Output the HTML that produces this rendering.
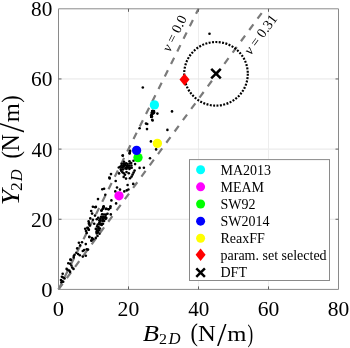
<!DOCTYPE html><html><head><meta charset="utf-8"><style>html,body{margin:0;padding:0;background:#fff;width:350px;height:348px;overflow:hidden}svg{display:block;will-change:transform}text{font-family:"Liberation Serif",serif}</style></head><body>
<svg width="350" height="348" viewBox="0 0 350 348">
<rect x="0" y="0" width="350" height="348" fill="#fff"/>
<line x1="128.5" y1="8.800000000000011" x2="128.5" y2="289.4" stroke="#ededed" stroke-width="1"/>
<line x1="58.5" y1="219.25" x2="338.5" y2="219.25" stroke="#e6e6e6" stroke-width="1"/>
<line x1="198.5" y1="8.800000000000011" x2="198.5" y2="289.4" stroke="#ededed" stroke-width="1"/>
<line x1="58.5" y1="149.10" x2="338.5" y2="149.10" stroke="#e6e6e6" stroke-width="1"/>
<line x1="268.5" y1="8.800000000000011" x2="268.5" y2="289.4" stroke="#ededed" stroke-width="1"/>
<line x1="58.5" y1="78.95" x2="338.5" y2="78.95" stroke="#e6e6e6" stroke-width="1"/>
<line x1="58.5" y1="289.4" x2="198.52" y2="8.80" stroke="#7a7a7a" stroke-width="2.2" stroke-dasharray="7 7"/>
<line x1="58.5" y1="289.4" x2="264.82" y2="8.80" stroke="#7a7a7a" stroke-width="2.2" stroke-dasharray="7 7"/>
<circle cx="209.5" cy="33.8" r="1.3" fill="#000"/>
<circle cx="142.8" cy="87.5" r="1.3" fill="#000"/>
<circle cx="152.8" cy="110.8" r="1.3" fill="#000"/>
<circle cx="151.7" cy="112.8" r="1.3" fill="#000"/>
<circle cx="153.4" cy="113.3" r="1.3" fill="#000"/>
<circle cx="151.1" cy="115.6" r="1.3" fill="#000"/>
<circle cx="152" cy="116.6" r="1.3" fill="#000"/>
<circle cx="157.4" cy="113.6" r="1.3" fill="#000"/>
<circle cx="172" cy="111.4" r="1.3" fill="#000"/>
<circle cx="152.2" cy="119.7" r="1.3" fill="#000"/>
<circle cx="151.3" cy="116" r="1.3" fill="#000"/>
<circle cx="152.6" cy="120.5" r="1.3" fill="#000"/>
<circle cx="146" cy="123.6" r="1.3" fill="#000"/>
<circle cx="147.2" cy="124" r="1.3" fill="#000"/>
<circle cx="147" cy="129.1" r="1.3" fill="#000"/>
<circle cx="167.4" cy="129.9" r="1.3" fill="#000"/>
<circle cx="150.9" cy="141.4" r="1.3" fill="#000"/>
<circle cx="156.1" cy="149.4" r="1.3" fill="#000"/>
<circle cx="139.6" cy="128.3" r="1.3" fill="#000"/>
<circle cx="130.1" cy="150.8" r="1.3" fill="#000"/>
<circle cx="129.7" cy="153" r="1.3" fill="#000"/>
<circle cx="122.8" cy="155.6" r="1.3" fill="#000"/>
<circle cx="150" cy="158.3" r="1.3" fill="#000"/>
<circle cx="139.6" cy="167.9" r="1.3" fill="#000"/>
<circle cx="143.9" cy="167.8" r="1.3" fill="#000"/>
<circle cx="133.2" cy="183.9" r="1.3" fill="#000"/>
<circle cx="130" cy="151.7" r="1.3" fill="#000"/>
<circle cx="129.6" cy="153.4" r="1.3" fill="#000"/>
<circle cx="122.7" cy="155.6" r="1.3" fill="#000"/>
<circle cx="111" cy="174.1" r="1.3" fill="#000"/>
<circle cx="109.3" cy="177.6" r="1.3" fill="#000"/>
<circle cx="109.7" cy="178.4" r="1.3" fill="#000"/>
<circle cx="115.7" cy="181" r="1.3" fill="#000"/>
<circle cx="102.3" cy="189.2" r="1.3" fill="#000"/>
<circle cx="104.1" cy="188.8" r="1.3" fill="#000"/>
<circle cx="117" cy="187.5" r="1.3" fill="#000"/>
<circle cx="120" cy="189.6" r="1.3" fill="#000"/>
<circle cx="115.3" cy="191.4" r="1.3" fill="#000"/>
<circle cx="124.3" cy="191.4" r="1.3" fill="#000"/>
<circle cx="105.3" cy="194.8" r="1.3" fill="#000"/>
<circle cx="98" cy="199.1" r="1.3" fill="#000"/>
<circle cx="111.4" cy="200.4" r="1.3" fill="#000"/>
<circle cx="116.1" cy="203.4" r="1.3" fill="#000"/>
<circle cx="103.6" cy="206.4" r="1.3" fill="#000"/>
<circle cx="110.5" cy="206.4" r="1.3" fill="#000"/>
<circle cx="95.9" cy="206.9" r="1.3" fill="#000"/>
<circle cx="103.4" cy="207.1" r="1.3" fill="#000"/>
<circle cx="102.6" cy="208.8" r="1.3" fill="#000"/>
<circle cx="101.3" cy="210.5" r="1.3" fill="#000"/>
<circle cx="106.5" cy="208.8" r="1.3" fill="#000"/>
<circle cx="108.6" cy="209.2" r="1.3" fill="#000"/>
<circle cx="110.3" cy="207.9" r="1.3" fill="#000"/>
<circle cx="110.8" cy="214.4" r="1.3" fill="#000"/>
<circle cx="92.9" cy="206.7" r="1.3" fill="#000"/>
<circle cx="95.1" cy="207.2" r="1.3" fill="#000"/>
<circle cx="103.7" cy="206.7" r="1.3" fill="#000"/>
<circle cx="103.3" cy="208.4" r="1.3" fill="#000"/>
<circle cx="105.9" cy="208.9" r="1.3" fill="#000"/>
<circle cx="108.4" cy="209.3" r="1.3" fill="#000"/>
<circle cx="91.2" cy="211" r="1.3" fill="#000"/>
<circle cx="101.6" cy="210.6" r="1.3" fill="#000"/>
<circle cx="92.1" cy="213.6" r="1.3" fill="#000"/>
<circle cx="90.3" cy="218.4" r="1.3" fill="#000"/>
<circle cx="92.9" cy="219.7" r="1.3" fill="#000"/>
<circle cx="88.6" cy="221.4" r="1.3" fill="#000"/>
<circle cx="89.1" cy="223.1" r="1.3" fill="#000"/>
<circle cx="85.2" cy="228.7" r="1.3" fill="#000"/>
<circle cx="87.3" cy="227.8" r="1.3" fill="#000"/>
<circle cx="88.6" cy="229.6" r="1.3" fill="#000"/>
<circle cx="86" cy="230.9" r="1.3" fill="#000"/>
<circle cx="89.3" cy="237.1" r="1.3" fill="#000"/>
<circle cx="92.3" cy="238.4" r="1.3" fill="#000"/>
<circle cx="95.8" cy="237.9" r="1.3" fill="#000"/>
<circle cx="91.4" cy="240.5" r="1.3" fill="#000"/>
<circle cx="88.9" cy="223.7" r="1.3" fill="#000"/>
<circle cx="89.7" cy="225.4" r="1.3" fill="#000"/>
<circle cx="88" cy="228" r="1.3" fill="#000"/>
<circle cx="88.9" cy="229.8" r="1.3" fill="#000"/>
<circle cx="88" cy="249.6" r="1.3" fill="#000"/>
<circle cx="86.7" cy="232.9" r="1.3" fill="#000"/>
<circle cx="89.3" cy="236.7" r="1.3" fill="#000"/>
<circle cx="91.9" cy="238" r="1.3" fill="#000"/>
<circle cx="93.2" cy="239.3" r="1.3" fill="#000"/>
<circle cx="91.4" cy="240.6" r="1.3" fill="#000"/>
<circle cx="78.9" cy="242.8" r="1.3" fill="#000"/>
<circle cx="82" cy="242.2" r="1.3" fill="#000"/>
<circle cx="85.8" cy="244.1" r="1.3" fill="#000"/>
<circle cx="80.2" cy="245.4" r="1.3" fill="#000"/>
<circle cx="77.2" cy="248.4" r="1.3" fill="#000"/>
<circle cx="84.1" cy="250.1" r="1.3" fill="#000"/>
<circle cx="86.7" cy="249.2" r="1.3" fill="#000"/>
<circle cx="82.8" cy="251" r="1.3" fill="#000"/>
<circle cx="76.3" cy="252.7" r="1.3" fill="#000"/>
<circle cx="78.1" cy="254" r="1.3" fill="#000"/>
<circle cx="79.8" cy="255.3" r="1.3" fill="#000"/>
<circle cx="74.6" cy="254.8" r="1.3" fill="#000"/>
<circle cx="73.8" cy="256.1" r="1.3" fill="#000"/>
<circle cx="82.8" cy="256.6" r="1.3" fill="#000"/>
<circle cx="85.8" cy="255.7" r="1.3" fill="#000"/>
<circle cx="70.3" cy="259.6" r="1.3" fill="#000"/>
<circle cx="73.7" cy="257.5" r="1.3" fill="#000"/>
<circle cx="70.9" cy="259.9" r="1.3" fill="#000"/>
<circle cx="68.3" cy="263.3" r="1.3" fill="#000"/>
<circle cx="70.1" cy="263.7" r="1.3" fill="#000"/>
<circle cx="71.4" cy="265.5" r="1.3" fill="#000"/>
<circle cx="72.2" cy="267.6" r="1.3" fill="#000"/>
<circle cx="73.5" cy="268.9" r="1.3" fill="#000"/>
<circle cx="66.6" cy="268.9" r="1.3" fill="#000"/>
<circle cx="67.5" cy="269.8" r="1.3" fill="#000"/>
<circle cx="69.2" cy="270.6" r="1.3" fill="#000"/>
<circle cx="70.1" cy="271.9" r="1.3" fill="#000"/>
<circle cx="62.7" cy="273.7" r="1.3" fill="#000"/>
<circle cx="61.9" cy="276.7" r="1.3" fill="#000"/>
<circle cx="63.2" cy="277.5" r="1.3" fill="#000"/>
<circle cx="64.5" cy="278.4" r="1.3" fill="#000"/>
<circle cx="61" cy="280.1" r="1.3" fill="#000"/>
<circle cx="62.3" cy="281.4" r="1.3" fill="#000"/>
<circle cx="63.2" cy="281.8" r="1.3" fill="#000"/>
<circle cx="61.4" cy="282.3" r="1.3" fill="#000"/>
<circle cx="127.6" cy="185.0" r="1.3" fill="#000"/>
<circle cx="126.7" cy="190.4" r="1.3" fill="#000"/>
<circle cx="128.4" cy="189.5" r="1.3" fill="#000"/>
<circle cx="118.8" cy="167.5" r="1.3" fill="#000"/>
<circle cx="119.1" cy="173.4" r="1.3" fill="#000"/>
<circle cx="121.2" cy="170.8" r="1.3" fill="#000"/>
<circle cx="122.5" cy="172.2" r="1.3" fill="#000"/>
<circle cx="123.8" cy="173.3" r="1.3" fill="#000"/>
<circle cx="126.5" cy="172" r="1.3" fill="#000"/>
<circle cx="128.8" cy="173.2" r="1.3" fill="#000"/>
<circle cx="125" cy="174.8" r="1.3" fill="#000"/>
<circle cx="123.7" cy="176.9" r="1.3" fill="#000"/>
<circle cx="126" cy="178.6" r="1.3" fill="#000"/>
<circle cx="130" cy="178.3" r="1.3" fill="#000"/>
<circle cx="131.7" cy="167.7" r="1.3" fill="#000"/>
<circle cx="134.6" cy="170.6" r="1.3" fill="#000"/>
<circle cx="133.6" cy="172.6" r="1.3" fill="#000"/>
<circle cx="132.6" cy="174.6" r="1.3" fill="#000"/>
<circle cx="131.6" cy="176.6" r="1.3" fill="#000"/>
<circle cx="124" cy="161.8" r="1.3" fill="#000"/>
<circle cx="129.5" cy="161.2" r="1.3" fill="#000"/>
<circle cx="131.2" cy="163" r="1.3" fill="#000"/>
<circle cx="131.4" cy="165.5" r="1.3" fill="#000"/>
<circle cx="133.5" cy="160.8" r="1.3" fill="#000"/>
<circle cx="135.1" cy="164.1" r="1.3" fill="#000"/>
<circle cx="95" cy="215.6" r="1.3" fill="#000"/>
<circle cx="94.2" cy="223.8" r="1.3" fill="#000"/>
<circle cx="97.5" cy="236" r="1.3" fill="#000"/>
<circle cx="107.5" cy="213.8" r="1.3" fill="#000"/>
<circle cx="105.5" cy="219" r="1.3" fill="#000"/>
<circle cx="121.74" cy="163.78" r="1.3" fill="#000"/>
<circle cx="123.87" cy="163.84" r="1.3" fill="#000"/>
<circle cx="126.13" cy="163.31" r="1.3" fill="#000"/>
<circle cx="127.51" cy="164.08" r="1.3" fill="#000"/>
<circle cx="129.76" cy="163.47" r="1.3" fill="#000"/>
<circle cx="121.50" cy="165.45" r="1.3" fill="#000"/>
<circle cx="123.34" cy="165.46" r="1.3" fill="#000"/>
<circle cx="125.14" cy="165.13" r="1.3" fill="#000"/>
<circle cx="127.13" cy="165.85" r="1.3" fill="#000"/>
<circle cx="129.02" cy="165.72" r="1.3" fill="#000"/>
<circle cx="120.17" cy="166.78" r="1.3" fill="#000"/>
<circle cx="122.26" cy="167.31" r="1.3" fill="#000"/>
<circle cx="123.80" cy="166.75" r="1.3" fill="#000"/>
<circle cx="126.37" cy="167.19" r="1.3" fill="#000"/>
<circle cx="128.22" cy="167.60" r="1.3" fill="#000"/>
<circle cx="130.21" cy="167.64" r="1.3" fill="#000"/>
<circle cx="120.89" cy="169.26" r="1.3" fill="#000"/>
<circle cx="122.94" cy="169.40" r="1.3" fill="#000"/>
<circle cx="125.38" cy="168.56" r="1.3" fill="#000"/>
<circle cx="126.64" cy="168.68" r="1.3" fill="#000"/>
<circle cx="129.47" cy="168.90" r="1.3" fill="#000"/>
<circle cx="102.13" cy="214.34" r="1.3" fill="#000"/>
<circle cx="104.01" cy="214.43" r="1.3" fill="#000"/>
<circle cx="105.85" cy="214.63" r="1.3" fill="#000"/>
<circle cx="101.08" cy="216.68" r="1.3" fill="#000"/>
<circle cx="103.18" cy="216.71" r="1.3" fill="#000"/>
<circle cx="105.36" cy="216.77" r="1.3" fill="#000"/>
<circle cx="98.17" cy="217.68" r="1.3" fill="#000"/>
<circle cx="100.36" cy="218.48" r="1.3" fill="#000"/>
<circle cx="102.40" cy="218.09" r="1.3" fill="#000"/>
<circle cx="104.21" cy="217.73" r="1.3" fill="#000"/>
<circle cx="106.33" cy="218.09" r="1.3" fill="#000"/>
<circle cx="96.78" cy="219.32" r="1.3" fill="#000"/>
<circle cx="99.35" cy="220.25" r="1.3" fill="#000"/>
<circle cx="100.59" cy="220.06" r="1.3" fill="#000"/>
<circle cx="102.91" cy="219.41" r="1.3" fill="#000"/>
<circle cx="99.79" cy="221.77" r="1.3" fill="#000"/>
<circle cx="102.37" cy="221.04" r="1.3" fill="#000"/>
<circle cx="104.11" cy="221.04" r="1.3" fill="#000"/>
<circle cx="99.22" cy="223.07" r="1.3" fill="#000"/>
<circle cx="101.38" cy="223.72" r="1.3" fill="#000"/>
<circle cx="103.01" cy="223.74" r="1.3" fill="#000"/>
<circle cx="97.81" cy="224.56" r="1.3" fill="#000"/>
<circle cx="100.10" cy="224.51" r="1.3" fill="#000"/>
<circle cx="101.70" cy="224.89" r="1.3" fill="#000"/>
<circle cx="97.11" cy="226.38" r="1.3" fill="#000"/>
<circle cx="98.54" cy="227.09" r="1.3" fill="#000"/>
<circle cx="95.81" cy="228.92" r="1.3" fill="#000"/>
<circle cx="98.40" cy="228.34" r="1.3" fill="#000"/>
<circle cx="99.96" cy="228.48" r="1.3" fill="#000"/>
<circle cx="97.14" cy="230.30" r="1.3" fill="#000"/>
<circle cx="99.06" cy="230.32" r="1.3" fill="#000"/>
<circle cx="96.44" cy="231.95" r="1.3" fill="#000"/>
<circle cx="97.93" cy="232.16" r="1.3" fill="#000"/>
<circle cx="96.74" cy="233.48" r="1.3" fill="#000"/>
<circle cx="99.48" cy="233.70" r="1.3" fill="#000"/>
<polygon points="151,110 155,110 155.5,113 153,115 152.5,118 150,118 150,115 151,113" fill="#000"/>
<circle cx="216" cy="73.8" r="31.8" fill="none" stroke="#000" stroke-width="2.2" stroke-dasharray="1.95 1.436"/>
<circle cx="154.4" cy="104.9" r="4.65" fill="#00ffff"/>
<circle cx="119.0" cy="195.8" r="4.65" fill="#ff00ff"/>
<circle cx="138" cy="157.6" r="4.65" fill="#00ff00"/>
<circle cx="136.6" cy="150.4" r="4.65" fill="#0000ff"/>
<circle cx="157.4" cy="143.4" r="4.65" fill="#ffff00"/>
<polygon points="184.5,73.39999999999999 189.5,79.6 184.5,85.8 179.5,79.6" fill="#ff0000"/>
<path d="M211.2,68.8L220.8,78.39999999999999M211.2,78.39999999999999L220.8,68.8" stroke="#000" stroke-width="2.5" fill="none"/>
<path d="M58.5,8.800000000000011H338.5V289.4H58.5Z" fill="none" stroke="#8a8a8a" stroke-width="1"/>
<line x1="128.5" y1="289.4" x2="128.5" y2="286.4" stroke="#606060"/>
<line x1="128.5" y1="8.800000000000011" x2="128.5" y2="11.800000000000011" stroke="#606060"/>
<line x1="58.5" y1="219.25" x2="61.5" y2="219.25" stroke="#606060"/>
<line x1="338.5" y1="219.25" x2="335.5" y2="219.25" stroke="#606060"/>
<line x1="198.5" y1="289.4" x2="198.5" y2="286.4" stroke="#606060"/>
<line x1="198.5" y1="8.800000000000011" x2="198.5" y2="11.800000000000011" stroke="#606060"/>
<line x1="58.5" y1="149.10" x2="61.5" y2="149.10" stroke="#606060"/>
<line x1="338.5" y1="149.10" x2="335.5" y2="149.10" stroke="#606060"/>
<line x1="268.5" y1="289.4" x2="268.5" y2="286.4" stroke="#606060"/>
<line x1="268.5" y1="8.800000000000011" x2="268.5" y2="11.800000000000011" stroke="#606060"/>
<line x1="58.5" y1="78.95" x2="61.5" y2="78.95" stroke="#606060"/>
<line x1="338.5" y1="78.95" x2="335.5" y2="78.95" stroke="#606060"/>
<text transform="matrix(1.0302,0,0,1.0000,52.85,315.68)" font-size="21.93" id="tx0">0</text>
<text transform="matrix(1.0302,0,0,1.0000,41.15,296.93)" font-size="21.93" id="ty0">0</text>
<text transform="matrix(0.9892,0,0,1.0000,117.57,315.68)" font-size="21.93" id="tx20">20</text>
<text transform="matrix(0.9793,0,0,1.0000,30.93,226.78)" font-size="21.93" id="ty20">20</text>
<text transform="matrix(0.9630,0,0,1.0000,188.13,315.68)" font-size="21.93" id="tx40">40</text>
<text transform="matrix(0.9533,0,0,1.0000,31.48,156.63)" font-size="21.93" id="ty40">40</text>
<text transform="matrix(0.9865,0,0,1.0000,257.63,315.68)" font-size="21.93" id="tx60">60</text>
<text transform="matrix(0.9766,0,0,1.0000,30.99,86.48)" font-size="21.93" id="ty60">60</text>
<text transform="matrix(0.9812,0,0,1.0000,327.74,315.68)" font-size="21.93" id="tx80">80</text>
<text transform="matrix(0.9713,0,0,1.0000,31.10,16.33)" font-size="21.93" id="ty80">80</text>
<g id="blab">
<text transform="matrix(1.1485,0,0,1.0000,142.63,340.64)" font-size="23.12" font-style="italic">B</text>
<text transform="matrix(1.0495,0,0,1.0000,158.88,344.00)" font-size="15.25">2</text>
<text transform="matrix(1.0676,0,0,1.0000,168.47,343.66)" font-size="15.67" font-style="italic">D</text>
<text transform="matrix(0.8782,0,0,1.0000,190.59,341.29)" font-size="25.45">(</text>
<text transform="matrix(1.0474,0,0,1.0000,198.06,341.10)" font-size="23.51">N</text>
<text transform="matrix(1.0149,0,0,1.0000,217.10,346.06)" font-size="33.73">/</text>
<text transform="matrix(1.1469,0,0,1.0000,227.31,340.80)" font-size="21.49">m</text>
<text transform="matrix(0.7049,0,0,1.0000,247.44,341.85)" font-size="24.24">)</text>
</g>
<g id="ylab" transform="rotate(-90)">
<text transform="matrix(1.1640,0,0,1.0000,-205.32,19.00)" font-size="24.27" font-style="italic">Y</text>
<text transform="matrix(1.0735,0,0,1.0000,-190.89,22.10)" font-size="16.30">2</text>
<text transform="matrix(0.9403,0,0,1.0000,-181.34,22.36)" font-size="17.49" font-style="italic">D</text>
<text transform="matrix(0.8706,0,0,1.0000,-158.41,19.34)" font-size="25.67">(</text>
<text transform="matrix(0.9837,0,0,1.0000,-151.42,19.10)" font-size="24.43">N</text>
<text transform="matrix(0.9802,0,0,1.0000,-132.50,24.35)" font-size="34.93">/</text>
<text transform="matrix(1.0726,0,0,1.0000,-122.19,19.00)" font-size="22.98">m</text>
<text transform="matrix(0.8928,0,0,1.0000,-102.82,18.73)" font-size="24.79">)</text>
</g>
<text id="nu0" transform="translate(169.9,52.8) rotate(-63.4)" font-size="14" fill="#000"><tspan font-style="italic">ν</tspan> = 0.0</text>
<text id="nu31" transform="translate(250.8,55.7) rotate(-53.7)" font-size="14" fill="#000"><tspan font-style="italic">ν</tspan> = 0.31</text>
<rect x="189.5" y="159.6" width="140" height="120.9" fill="#fff" stroke="#8a8a8a" stroke-width="1"/>
<circle cx="200.6" cy="169.7" r="4.5" fill="#00ffff"/>
<text id="lg0" x="220.5" y="174.5" font-size="14" fill="#000">MA2013</text>
<circle cx="200.6" cy="186.85" r="4.5" fill="#ff00ff"/>
<text id="lg1" x="220.5" y="191.7" font-size="14" fill="#000">MEAM</text>
<circle cx="200.6" cy="204.0" r="4.5" fill="#00ff00"/>
<text id="lg2" x="220.5" y="208.8" font-size="14" fill="#000">SW92</text>
<circle cx="200.6" cy="221.14999999999998" r="4.5" fill="#0000ff"/>
<text id="lg3" x="220.5" y="225.9" font-size="14" fill="#000">SW2014</text>
<circle cx="200.6" cy="238.29999999999998" r="4.5" fill="#ffff00"/>
<text id="lg4" x="220.5" y="243.1" font-size="14" fill="#000">ReaxFF</text>
<polygon points="200.6,248.55 205.6,254.75 200.6,260.95 195.6,254.75" fill="#ff0000"/>
<text id="lg5" x="220.5" y="260.2" font-size="14" fill="#000">param. set selected</text>
<path d="M196.29999999999998,268.29999999999995L204.9,276.9M196.29999999999998,276.9L204.9,268.29999999999995" stroke="#000" stroke-width="2.5" fill="none"/>
<text id="lg6" x="220.5" y="277.4" font-size="14" fill="#000">DFT</text>
</svg></body></html>
